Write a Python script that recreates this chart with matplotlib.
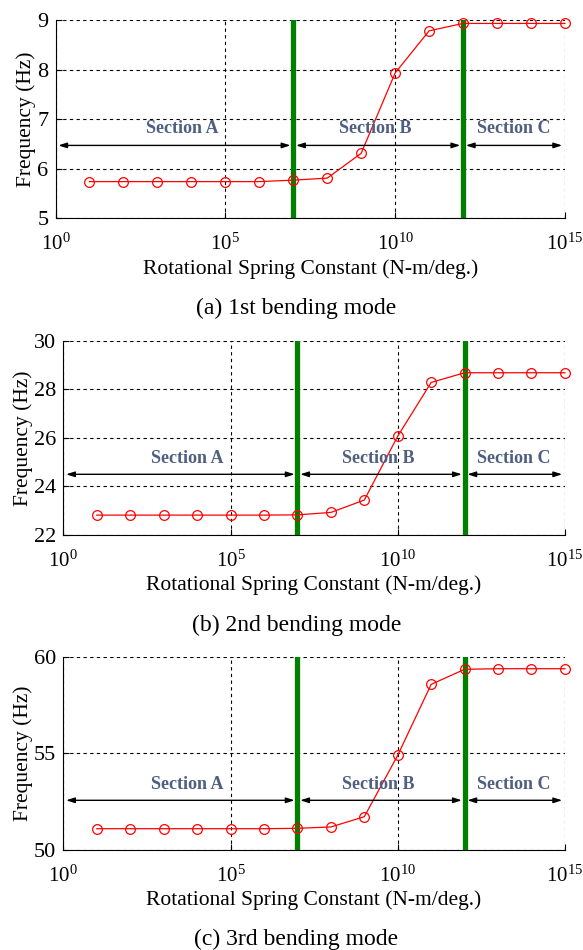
import numpy as np
import matplotlib
matplotlib.use('Agg')
import matplotlib.pyplot as plt
import matplotlib.ticker as mticker

plt.rcParams['font.family'] = ['Liberation Serif', 'DejaVu Serif']
plt.rcParams['mathtext.fontset'] = 'custom'
plt.rcParams['mathtext.rm'] = 'Liberation Serif'

# spring constant exponents 10^1 .. 10^15
k_exp = np.arange(1, 16)
spring_k = 10.0 ** k_exp

freq_mode1 = [5.74, 5.74, 5.74, 5.74, 5.74, 5.74, 5.77, 5.81, 6.31, 7.93,
              8.78, 8.93, 8.93, 8.93, 8.93]
freq_mode2 = [22.82, 22.82, 22.82, 22.82, 22.82, 22.82, 22.83, 22.93, 23.44, 26.07,
              28.28, 28.68, 28.68, 28.68, 28.68]
freq_mode3 = [51.1, 51.1, 51.1, 51.1, 51.1, 51.1, 51.12, 51.19, 51.72, 54.9,
              58.57, 59.35, 59.38, 59.38, 59.38]

section_bounds = [1e0, 1e7, 1e12, 1e15]
section_names = ['Section A', 'Section B', 'Section C']
section_text_x = [10 ** 3.72, 10 ** 9.42, 10 ** 13.48]

captions = ['(a) 1st bending mode', '(b) 2nd bending mode', '(c) 3rd bending mode']
ylims = [(5, 9), (22, 30), (50, 60)]
yticks = [[5, 6, 7, 8, 9], [22, 24, 26, 28, 30], [50, 55, 60]]
arrow_y = [6.47, 24.5, 52.57]
text_y = [6.82, 25.17, 53.41]

# axes rectangles [left, bottom, width, height] in figure fraction
rects = [[0.0952, 0.7702, 0.8738, 0.2088],
         [0.1086, 0.4368, 0.8604, 0.2046],
         [0.1086, 0.1053, 0.8604, 0.2034]]
caption_y = [0.6758, 0.3421, 0.0116]

fig = plt.figure(figsize=(5.83, 9.5), dpi=100)

for i, freq in enumerate([freq_mode1, freq_mode2, freq_mode3]):
    ax = fig.add_axes(rects[i])
    ax.set_xscale('log')
    ax.set_xlim(1e0, 1e15)
    ax.set_ylim(*ylims[i])
    ax.set_yticks(yticks[i])
    ax.xaxis.set_major_locator(mticker.FixedLocator([1e0, 1e5, 1e10, 1e15]))
    ax.xaxis.set_minor_locator(mticker.NullLocator())
    ax.xaxis.set_major_formatter(mticker.FuncFormatter(
        lambda v, p: r'$\mathregular{10^{%d}}$' % round(np.log10(v))))
    ax.grid(True, color='black', linestyle=(0, (3, 3)), linewidth=0.8)
    ax.set_axisbelow(True)
    for s in ['top', 'right']:
        ax.spines[s].set_visible(False)
    ax.tick_params(direction='in', length=4)
    ax.tick_params(axis='x', labelsize=15, pad=11)
    ax.tick_params(axis='y', labelsize=16, pad=5)

    ax.plot(spring_k, freq, color='red', linewidth=0.9, marker='o', markersize=7,
            markerfacecolor='none', markeredgewidth=0.9, zorder=4, clip_on=False)

    for xb in [1e7, 1e12]:
        ax.axvline(xb, color='#007f00', linewidth=3.8, zorder=3)

    for j in range(3):
        ax.annotate('', xy=(section_bounds[j + 1], arrow_y[i]),
                    xytext=(section_bounds[j], arrow_y[i]),
                    arrowprops=dict(arrowstyle='<|-|>,head_length=0.5,head_width=0.16',
                                    color='black', lw=1.0, shrinkA=2, shrinkB=2),
                    zorder=5)
        ax.text(section_text_x[j], text_y[i], section_names[j], ha='center', va='center',
                fontsize=13, fontweight='bold', color='#4f5f80', zorder=6)

    ax.set_xlabel('Rotational Spring Constant (N-m/deg.)', fontsize=15.5, labelpad=3)
    ax.set_ylabel('Frequency (Hz)', fontsize=15.5, labelpad=1)
    fig.text(0.5086, caption_y[i], captions[i], ha='center', va='center', fontsize=17)

fig.savefig('out.png', dpi=100)
